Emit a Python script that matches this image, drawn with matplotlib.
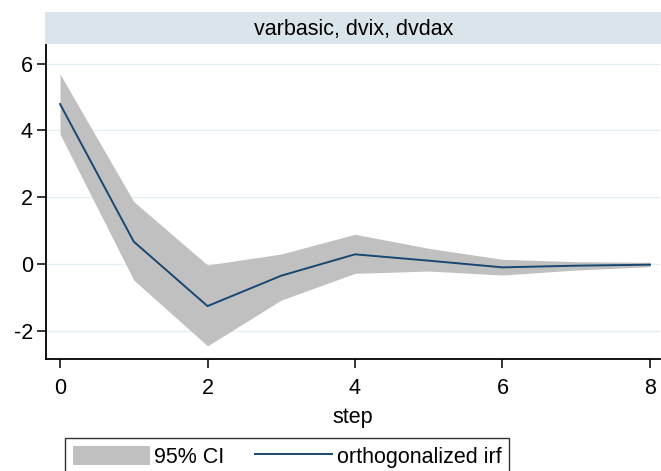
import matplotlib
matplotlib.use("Agg")
import matplotlib.pyplot as plt
from matplotlib.patches import Rectangle

plt.rcParams['font.family'] = ['Liberation Sans', 'DejaVu Sans']
plt.rcParams['axes.unicode_minus'] = False

steps = [0, 1, 2, 3, 4, 5, 6, 7, 8]
irf = [4.79, 0.67, -1.26, -0.35, 0.29, 0.10, -0.10, -0.05, -0.02]
ci_upper = [5.69, 1.87, -0.03, 0.30, 0.89, 0.47, 0.14, 0.07, 0.05]
ci_lower = [3.89, -0.48, -2.45, -1.08, -0.28, -0.21, -0.33, -0.18, -0.08]
yticks = [-2, 0, 2, 4, 6]
xticks = [0, 2, 4, 6, 8]
title = "varbasic, dvix, dvdax"

W, H = 661, 471
FS = 15.5
fig = plt.figure(figsize=(W / 100, H / 100), dpi=100)

def fx(p):
    return p / W

def fy(p):
    return 1 - p / H

ax = fig.add_axes([fx(46), fy(359), fx(660) - fx(46), fy(45) - fy(359)])

# title band
fig.patches.append(Rectangle((fx(45), fy(44)), fx(661) - fx(45), fy(12) - fy(44),
                             transform=fig.transFigure, facecolor='#d9e5ea',
                             edgecolor='none', zorder=0))
fig.text(fx(354), fy(29), title, ha='center', va='center', fontsize=FS, color='black')

for t in yticks:
    ax.axhline(t, color='#e3eef2', lw=0.9, zorder=0)

ci = ax.fill_between(steps, ci_lower, ci_upper, color='#c0c0c0', lw=0, label='95% CI', zorder=1)
ln, = ax.plot(steps, irf, color='#1a476f', lw=1.4, label='orthogonalized irf', zorder=2)

ax.set_xlim(-0.19, 8.136)
ax.set_ylim(-2.844, 6.557)
ax.set_xticks(xticks)
ax.set_yticks(yticks)
ax.spines['top'].set_visible(False)
ax.spines['right'].set_visible(False)
for s in ['left', 'bottom']:
    ax.spines[s].set_linewidth(1.3)
    ax.spines[s].set_color('black')
ax.tick_params(axis='both', labelsize=FS, width=1.1, length=6.5, color='black')
ax.tick_params(axis='y', pad=3)
ax.tick_params(axis='x', pad=7)
ax.set_xlabel('step', fontsize=FS, labelpad=6)

leg = fig.legend(handles=[ci, ln], labels=['95% CI', 'orthogonalized irf'],
                 loc='upper left', bbox_to_anchor=(fx(65), fy(438)),
                 bbox_transform=fig.transFigure, ncol=2, fontsize=FS,
                 frameon=True, fancybox=False, edgecolor='black',
                 borderpad=0.35, borderaxespad=0, handlelength=3.6,
                 handleheight=1.0, handletextpad=0.2, columnspacing=1.4)
leg.get_frame().set_linewidth(1.0)

fig.savefig('out.png', dpi=100)
